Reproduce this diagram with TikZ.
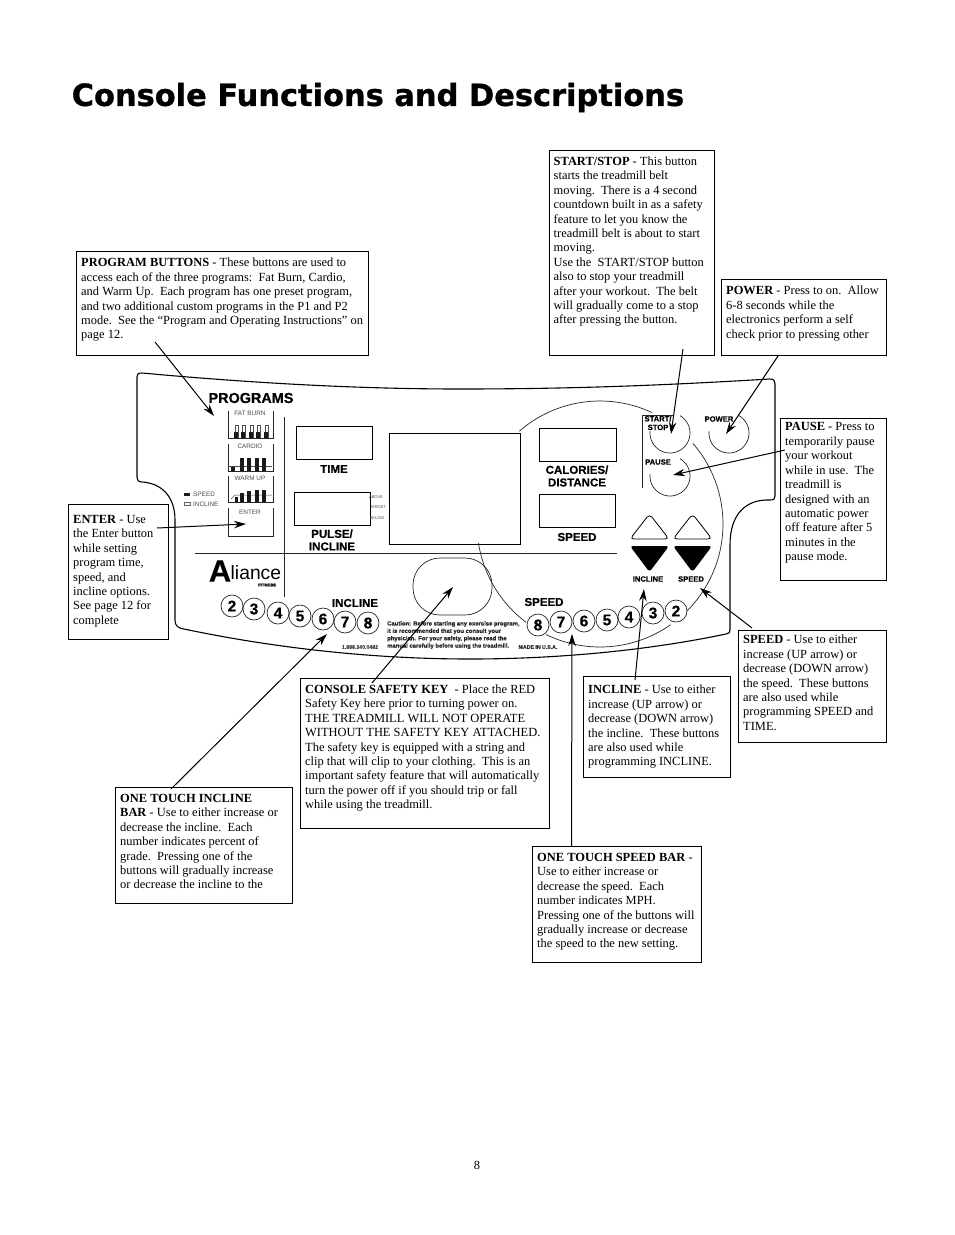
\documentclass[tikz,border=0pt]{standalone}
\usepackage{fontspec}
\setmainfont{Liberation Serif}
\newfontfamily\hvf[BoldFeatures={FakeBold=0.4}]{Liberation Sans}
\newfontfamily\titlef[BoldFeatures={FakeBold=1.0}]{DejaVu Sans}
\usetikzlibrary{arrows.meta}
\tikzset{
  x=1pt,y=-1pt,
  boxx/.style={draw=black,line width=0.8pt,inner sep=0pt,anchor=north west},
  desc/.style={anchor=north west,inner sep=0pt,align=left,font=\fontsize{12.45}{14.42}\selectfont},
  conn/.style={draw=black,line width=1pt,-{Stealth[length=12pt,width=7.5pt]}},
  panel/.style={draw=black!85,line width=0.7pt},
  screen/.style={draw=black,line width=1.2pt,inner sep=0pt,anchor=north west},
  plab/.style={inner sep=0pt,align=center,font=\hvf\bfseries\fontsize{11.5}{12.6}\selectfont,text=black},
  tiny/.style={inner sep=0pt,font=\hvf\fontsize{6.4}{7}\selectfont,text=black!70},
  tinyb/.style={inner sep=0pt,font=\hvf\bfseries\fontsize{6.6}{7.6}\selectfont,text=black!85,anchor=west},
  numb/.style={circle,draw=black!85,line width=0.7pt,fill=white,minimum size=22pt,inner sep=0pt,font=\hvf\bfseries\fontsize{15.5}{15.5}\selectfont},
  bk/.style={fill=black!90},
  ol/.style={draw=black!70,line width=0.5pt}
}
\begin{document}
\begin{tikzpicture}
\useasboundingbox (0,0) rectangle (954,1235);
\fill[white] (0,0) rectangle (954,1235);
\node[anchor=west,inner sep=0pt,font=\titlef\bfseries\fontsize{30.45}{34}\selectfont] (title) at (71.5,97.5) {Console Functions and Descriptions};

% console outline
\draw[line width=1.1pt,line join=round] (137,377) .. controls (137,374) and (138,373) .. (142,373)
  .. controls (240,382) and (350,389) .. (460,389)
  .. controls (600,389) and (700,383) .. (770,379)
  .. controls (774,379) and (775,381) .. (775,384)
  -- (775,496) .. controls (775,499) and (774,500) .. (770,500)
  .. controls (745,499) and (730,515) .. (730,545)
  -- (730,630) .. controls (730,633) and (729,633) .. (726,634)
  .. controls (650,650) and (560,659) .. (470,659)
  .. controls (360,659) and (260,645) .. (184,629)
  .. controls (178,628) and (175,626) .. (175,620)
  -- (175,520) .. controls (175,495) and (160,483) .. (142,482)
  .. controls (138,482) and (137,480) .. (137,477) -- cycle;

% large arc
\draw[panel] plot[domain=131:65,samples=40,smooth] ({600+123*cos(\x)},{524-123*sin(\x)});
\draw[panel] plot[domain=41:-46,samples=40,smooth] ({600+123*cos(\x)},{524-123*sin(\x)});
\draw[panel] plot[domain=-55:-116,samples=30,smooth] ({600+123*cos(\x)},{524-123*sin(\x)});
\draw[panel] plot[domain=-171:-127,samples=30,smooth] ({600+123*cos(\x)},{524-123*sin(\x)});

% dividers
\draw[panel] (195,553) -- (617,553);
\draw[panel] (284,417) -- (284,597);
\draw[panel] (673,415) -- (642,415) -- (642,488);

% screens
\node[screen,minimum width=76,minimum height=33] (timescr) at (296,426) {};
\node[screen,minimum width=76,minimum height=33] (pulsescr) at (294,492) {};
\node[screen,minimum width=131,minimum height=111] (mainscr) at (389,433) {};
\node[screen,minimum width=77,minimum height=33] (calscr) at (539,428) {};
\node[screen,minimum width=76,minimum height=33] (spdscr) at (539,494) {};
\node[plab] (proglab) at (251,398) {\fontsize{14.4}{15}\selectfont PROGRAMS};
\node[plab] (timelab) at (334,469) {TIME};
\node[plab] (pulselab) at (332,540) {PULSE/\\INCLINE};
\node[plab] (callab) at (577,476) {CALORIES/\\DISTANCE};
\node[plab] (spdlab) at (577,537) {SPEED};
\node[tiny,font=\hvf\fontsize{4}{5}\selectfont] (above) at (376,497) {ABOVE};
\node[tiny,font=\hvf\fontsize{4}{5}\selectfont] (target) at (378,507) {TARGET};
\node[tiny,font=\hvf\fontsize{4}{5}\selectfont] (below) at (377,518) {BELOW};

% program buttons
\foreach \yt/\yb in {411/438,444/471,476/502,508/536}
  \draw[panel] (228,\yt) -- (228,\yb) -- (273,\yb) -- (273,\yt);
\node[tiny] (fatlab) at (250,413.5) {FAT BURN};
\node[tiny] (cardlab) at (250,446.5) {CARDIO};
\node[tiny] (warmlab) at (250,478.5) {WARM UP};
\node[tiny] (entlab) at (250,512) {ENTER};
% fat burn bars
\foreach \bx in {234,241,249,256,264}{
  \draw[ol] (\bx+1,425) rectangle (\bx+4.5,437);
  \fill[bk] (\bx,432) rectangle (\bx+4,437.5);}
% cardio bars
\fill[bk] (231,466) rectangle (235,470.5);
\draw[ol] (229,466) -- (272,466);
\foreach \bx in {240,247,255,262} \fill[bk] (\bx,458) rectangle (\bx+4,470.5);
% warm up bars
\draw[ol] (231,499) -- (235,495) -- (272,495);
\foreach \bx/\by in {240/493,247/491,255/490,262/490} \fill[bk] (\bx,\by) rectangle (\bx+4,501.5);
\fill[bk] (235,497) rectangle (238,501.5);
% legend
\fill[bk] (184,492.5) rectangle (190,495.5);
\draw[black!60,line width=0.5pt] (184,502.5) rectangle (190,505.5);
\node[tiny,anchor=west] (legs) at (193,494) {SPEED};
\node[tiny,anchor=west] (legi) at (193,504.5) {INCLINE};

% logo
\node[inner sep=0pt,font=\hvf\bfseries\fontsize{31}{31}\selectfont] (logoa) at (220,571) {A};
\node[inner sep=0pt,anchor=west,font=\hvf\fontsize{19.3}{19.3}\selectfont] (logob) at (230.5,572.5) {liance};
\node[inner sep=0pt,font=\hvf\bfseries\fontsize{4.2}{5}\selectfont] (logoc) at (267,585) {FITNESS};

% safety key oval
\draw[panel,rounded corners=27pt] (413,558) rectangle (492,615);

% one-touch rows
\foreach \nn/\nx/\ny/\nl in {la/232/606/2,lb/254/609/3,lc/278/613/4,ld/300/616/5,le/323/619/6,lf/345/622/7,lg/368/623/8,
  ra/538/625/8,rb/561/622/7,rc/584/621/6,rd/607/620/5,re/629/617/4,rf/653/613/3,rg/676/611/2}
  \node[numb] (\nn) at (\nx,\ny) {\nl};
\node[plab] (inclab) at (355,603) {INCLINE};
\node[plab] (speedlab) at (544,602) {SPEED};
\node[inner sep=0pt,font=\hvf\bfseries\fontsize{5.2}{6}\selectfont,text=black!70] (phone) at (360,647) {1.888.340.0482};
\node[tinyb,anchor=north west,align=left,font=\hvf\bfseries\fontsize{5.9}{7.4}\selectfont] (caution) at (387,621) {Caution: Before starting any exercise program,\\it is recommended that you consult your\\physician. For your safety, please read the\\manual carefully before using the treadmill.};
\node[inner sep=0pt,font=\hvf\bfseries\fontsize{5.2}{6}\selectfont,text=black!80] (made) at (538,647) {MADE IN U.S.A.};

% small button arcs
\foreach \cx/\cy in {670/433,729/433,670/476}
  \draw[panel] plot[domain=175:420,samples=40,smooth] ({\cx+20*cos(\x)},{\cy-20*sin(\x)});
\node[plab,font=\hvf\bfseries\fontsize{7.6}{8.6}\selectfont] (startl) at (658,423) {START/\\STOP};
\node[plab,font=\hvf\bfseries\fontsize{7.6}{8.6}\selectfont] (powerl) at (719,419) {POWER};
\node[plab,font=\hvf\bfseries\fontsize{7.6}{8.6}\selectfont] (pausel) at (658,462) {PAUSE};

% arrow keys
\foreach \ax in {630,673}{
  \draw[line width=0.8pt,rounded corners=4pt] (\ax,539) -- (\ax+19.5,514) -- (\ax+39,539) -- cycle;
  \fill[black,rounded corners=3pt] (\ax,546) -- (\ax+39,546) -- (\ax+19.5,572) -- cycle;}
\node[plab,font=\hvf\bfseries\fontsize{7.6}{9}\selectfont] (kinc) at (648,579) {INCLINE};
\node[plab,font=\hvf\bfseries\fontsize{7.6}{9}\selectfont] (kspd) at (691,579) {SPEED};

% text boxes
\node[boxx,minimum width=292,minimum height=104] (progbox) at (76,251) {};
\node[desc] (progtxt) at (81,258) {\textbf{PROGRAM BUTTONS} - These buttons are used to\\access each of the three programs:\ \ Fat Burn, Cardio,\\and Warm Up.\ \ Each program has one preset program,\\and two additional custom programs in the P1 and P2\\mode.\ \ See the “Program and Operating Instructions” on\\page 12.};
\node[boxx,minimum width=165,minimum height=205] (startbox) at (549,150) {};
\node[desc] (starttxt) at (553.5,156.5) {\textbf{START/STOP} - This button\\starts the treadmill belt\\moving.\ \ There is a 4 second\\countdown built in as a safety\\feature to let you know the\\treadmill belt is about to start\\moving.\\Use the\ \ START/STOP button\\also to stop your treadmill\\after your workout.\ \ The belt\\will gradually come to a stop\\after pressing the button.};
\node[boxx,minimum width=165,minimum height=76] (powerbox) at (721,279) {};
\node[desc] (powertxt) at (726,286) {\textbf{POWER} - Press to on.\ \ Allow\\6-8 seconds while the\\electronics perform a self\\check prior to pressing other};
\node[boxx,minimum width=106,minimum height=162] (pausebox) at (780,418) {};
\node[desc] (pausetxt) at (785,422.5) {\textbf{PAUSE} - Press to\\temporarily pause\\your workout\\while in use.\ \ The\\treadmill is\\designed with an\\automatic power\\off feature after 5\\minutes in the\\pause mode.};
\node[boxx,line width=1.2pt,minimum width=100,minimum height=135] (enterbox) at (68,504) {};
\node[desc] (entertxt) at (73,515) {\textbf{ENTER} - Use\\the Enter button\\while setting\\program time,\\speed, and\\incline options.\\See page 12 for\\complete};
\node[boxx,minimum width=148,minimum height=112] (speedbox) at (738,630) {};
\node[desc] (speedtxt) at (743,635) {\textbf{SPEED} - Use to either\\increase (UP arrow) or\\decrease (DOWN arrow)\\the speed.\ \ These buttons\\are also used while\\programming SPEED and\\TIME.};
\node[boxx,minimum width=147,minimum height=101] (inclbox) at (583,676) {};
\node[desc] (incltxt) at (588,685) {\textbf{INCLINE} - Use to either\\increase (UP arrow) or\\decrease (DOWN arrow)\\the incline.\ \ These buttons\\are also used while\\programming INCLINE.};
\node[boxx,minimum width=249,minimum height=150] (safebox) at (300,678) {};
\node[desc] (safetxt) at (305,684.5) {\textbf{CONSOLE SAFETY KEY}\ \ - Place the RED\\Safety Key here prior to turning power on.\\THE TREADMILL WILL NOT OPERATE\\WITHOUT THE SAFETY KEY ATTACHED.\\The safety key is equipped with a string and\\clip that will clip to your clothing.\ \ This is an\\important safety feature that will automatically\\turn the power off if you should trip or fall\\while using the treadmill.};
\node[boxx,minimum width=177,minimum height=116] (otibox) at (115,787) {};
\node[desc] (otitxt) at (120,794) {\textbf{ONE TOUCH INCLINE}\\\textbf{BAR} - Use to either increase or\\decrease the incline.\ \ Each\\number indicates percent of\\grade.\ \ Pressing one of the\\buttons will gradually increase\\or decrease the incline to the};
\node[boxx,minimum width=169,minimum height=116] (otsbox) at (532,846) {};
\node[desc] (otstxt) at (537,853) {\textbf{ONE TOUCH SPEED BAR} -\\Use to either increase or\\decrease the speed.\ \ Each\\number indicates MPH.\\Pressing one of the buttons will\\gradually increase or decrease\\the speed to the new setting.};
\node[inner sep=0pt,font=\fontsize{12.45}{14.5}\selectfont] (pageno) at (477,1165.5) {8};

% connector ends
\coordinate (tprog) at (155,342);  \coordinate (hprog) at (214,416);
\coordinate (tstart) at (683,349); \coordinate (hstart) at (671,434);
\coordinate (tpower) at (778,356); \coordinate (hpower) at (726,434);
\coordinate (tpause) at (785,450); \coordinate (hpause) at (673,475);
\coordinate (tenter) at (157,528); \coordinate (henter) at (246,524);
\coordinate (tspeed) at (752,628); \coordinate (hspeed) at (700,588);
\coordinate (tincl) at (635,680);  \coordinate (hincl) at (644,589);
\coordinate (tots) at (571.5,846); \coordinate (hots) at (572,634);
\coordinate (tsafe) at (372,683);  \coordinate (hsafe) at (453,587);
\coordinate (toti) at (171,789);   \coordinate (hoti) at (327,634);
\foreach \a/\b in {tprog/hprog,tstart/hstart,tpower/hpower,tpause/hpause,tenter/henter,tspeed/hspeed,tincl/hincl,tots/hots,tsafe/hsafe,toti/hoti}
  \draw[conn] (\a) -- (\b);
\end{tikzpicture}
\end{document}
